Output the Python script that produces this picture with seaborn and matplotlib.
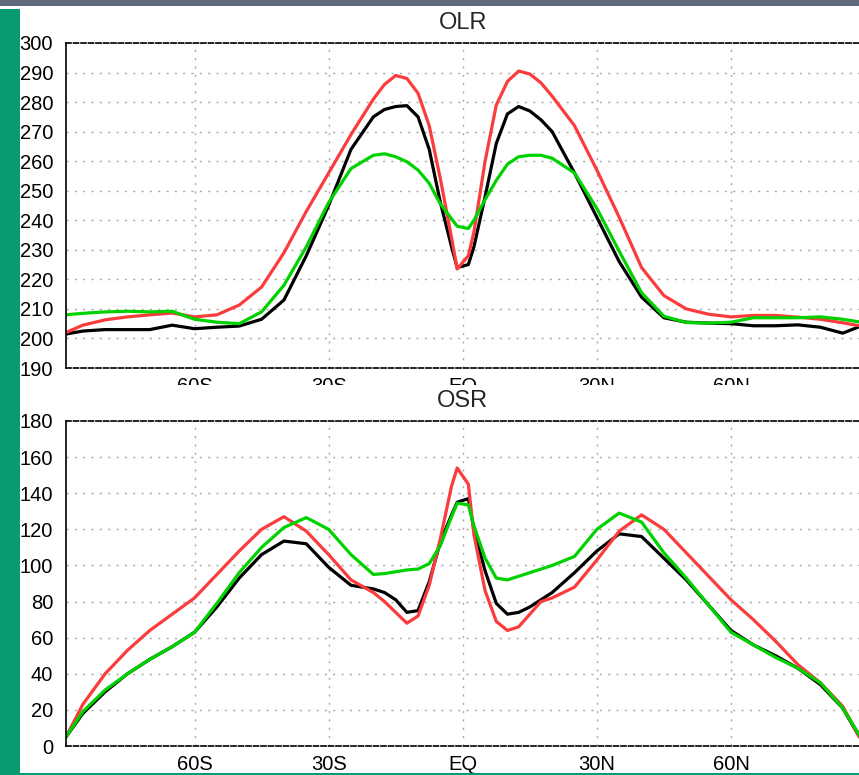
import numpy as np
import pandas as pd
import matplotlib
matplotlib.use('Agg')
import seaborn as sns
import matplotlib.pyplot as plt
from matplotlib.patches import Rectangle

# latitude grid (negative = south)
lat = [-88.75, -85, -80, -75, -70, -65, -60, -55, -50, -45, -40, -35, -30, -25,
       -20, -17.5, -15, -12.5, -10, -7.5, -5, -2.5, -1.25,
       1.25, 2.5, 5, 7.5, 10, 12.5, 15, 17.5, 20,
       25, 30, 35, 40, 45, 50, 55, 60, 65, 70, 75, 80, 85, 88.75]

# OLR (W/m2)
olr_black = [201.5, 202.5, 203, 203, 203, 204.5, 203.3, 203.8, 204.2, 206.5, 213, 228, 245, 264,
             275, 277.5, 278.5, 278.8, 275, 264, 246, 231, 224,
             225, 231, 248, 266, 276, 278.5, 277, 274, 270,
             256, 241, 226, 214, 207, 205.5, 205.2, 205, 204.3, 204.3, 204.6, 203.8, 201.8, 204]
olr_red = [202, 204.5, 206.3, 207.3, 208, 208.6, 207.3, 208, 211.3, 217.4, 229, 243, 256, 269,
           281, 286, 289, 288, 283, 272, 254, 234, 223.5,
           228, 236, 260, 279, 287, 290.5, 289.5, 286.5, 282,
           272, 257, 241, 224, 214.5, 210, 208.2, 207.3, 207.8, 207.8, 207.2, 206.5, 205.3, 204.3]
olr_green = [208, 208.5, 209, 209.2, 209, 209.2, 206.5, 205.5, 205, 209, 218, 231, 246, 257.5,
             262, 262.5, 261.5, 259.8, 257, 252.5, 245.5, 240.5, 238,
             237.2, 240, 247, 253.5, 259, 261.5, 262, 262, 261,
             256, 244, 229.5, 215.5, 207.5, 205.4, 205.2, 205.5, 207, 207, 207, 207.3, 206.5, 205.6]

# OSR (W/m2)
osr_black = [5, 18, 30, 40, 48, 55, 63, 77, 93, 106, 113.5, 112, 99, 89,
             87, 85, 81, 74, 75, 91, 113, 128, 135,
             137, 120, 97, 79, 73, 74, 77, 81, 85,
             96, 108, 117.5, 116, 104, 92, 78, 64, 56, 50, 43, 34, 21, 5]
osr_red = [5, 23, 40, 53, 64, 73, 82, 95, 108, 120, 127, 119, 106, 92,
           85, 80, 74, 68, 72, 89, 115, 144, 154,
           145, 117, 86, 69, 64, 66, 73, 80, 82,
           88, 103, 119, 128, 120, 107, 94, 81, 70, 58, 45, 35, 22, 5]
osr_green = [5, 19, 31, 40, 48, 55, 63, 79, 96, 110, 121, 126.5, 120, 106,
             95, 95.5, 96.5, 97.5, 98, 101, 111, 127, 134.5,
             133.5, 122, 104, 93, 92, 94, 96, 98, 100,
             105, 120, 129, 124, 107, 93, 78, 63, 56, 49, 43, 35, 21, 6]

xtick_pos = [-60, -30, 0, 30, 60]
xtick_labels = ['60S', '30S', 'EQ', '30N', '60N']
olr_ticks = list(range(190, 301, 10))
osr_ticks = list(range(0, 181, 20))

runs = ['ctl', 'exp1', 'exp2']
palette = {'ctl': '#000000', 'exp1': '#fa3c3c', 'exp2': '#00d200'}


def panel_frame(black, red, green):
    n = len(lat)
    return pd.DataFrame({
        'lat': lat * 3,
        'value': black + red + green,
        'run': [runs[0]] * n + [runs[1]] * n + [runs[2]] * n,
    })


def style_axes(ax, yticks):
    ax.set_xlim(-88.75, 88.75)
    ax.set_ylim(yticks[0], yticks[-1])
    ax.set_yticks(yticks)
    ax.set_xticks(xtick_pos)
    ax.set_xticklabels(xtick_labels)
    ax.set_xlabel('')
    ax.set_ylabel('')
    ax.grid(True, color='#a8a8a8', linestyle=(0, (1.5, 4.5)), linewidth=1)
    ax.set_axisbelow(True)
    ax.spines['left'].set_linewidth(1.2)
    ax.spines['left'].set_color('black')
    for s in ['top', 'bottom']:
        ax.spines[s].set_linestyle((0, (3, 1.5)))
        ax.spines[s].set_linewidth(1.2)
        ax.spines[s].set_color('black')
    ax.spines['right'].set_visible(False)
    ax.tick_params(axis='both', direction='out', length=4.3, width=1,
                   labelsize=14.5, colors='black', top=False, right=False)
    ax.tick_params(axis='y', pad=5)
    ax.tick_params(axis='x', pad=2)


sns.set_style('white')
plt.rcParams['font.family'] = ['Liberation Sans', 'DejaVu Sans']

fig = plt.figure(figsize=(8.59, 7.75), dpi=100)
W, H = 859.0, 775.0
ax1 = fig.add_axes([66 / W, 1 - 368 / H, 793.5 / W, 325 / H])
ax2 = fig.add_axes([66 / W, 1 - 746 / H, 793.5 / W, 325 / H])

sns.lineplot(data=panel_frame(olr_black, olr_red, olr_green), x='lat', y='value',
             hue='run', hue_order=runs, palette=palette, sort=False,
             linewidth=2.3, legend=False, ax=ax1)
sns.lineplot(data=panel_frame(osr_black, osr_red, osr_green), x='lat', y='value',
             hue='run', hue_order=runs, palette=palette, sort=False,
             linewidth=2.3, legend=False, ax=ax2)

style_axes(ax1, olr_ticks)
style_axes(ax2, osr_ticks)

# white band hiding the lower half of the upper panel's x labels
fig.add_artist(Rectangle((20 / W, 1 - 411 / H), 1, 26 / H, transform=fig.transFigure,
                         facecolor='white', edgecolor='none', zorder=5))

fig.text(463 / W, 1 - 29 / H, 'OLR', ha='center', va='baseline', fontsize=17, zorder=6)
fig.text(462 / W, 1 - 407 / H, 'OSR', ha='center', va='baseline', fontsize=17, zorder=6)

# window decorations
fig.add_artist(Rectangle((0, 1 - 6 / H), 1, 6 / H, transform=fig.transFigure,
                         facecolor='#5f6b7b', edgecolor='none', zorder=7))
fig.add_artist(Rectangle((0, 0), 20 / W, 1 - 9 / H, transform=fig.transFigure,
                         facecolor='#079b72', edgecolor='none', zorder=7))
fig.add_artist(Rectangle((0, 0), 1, 2.5 / H, transform=fig.transFigure,
                         facecolor='#079b72', edgecolor='none', zorder=7))

fig.savefig('out.png', dpi=100)
